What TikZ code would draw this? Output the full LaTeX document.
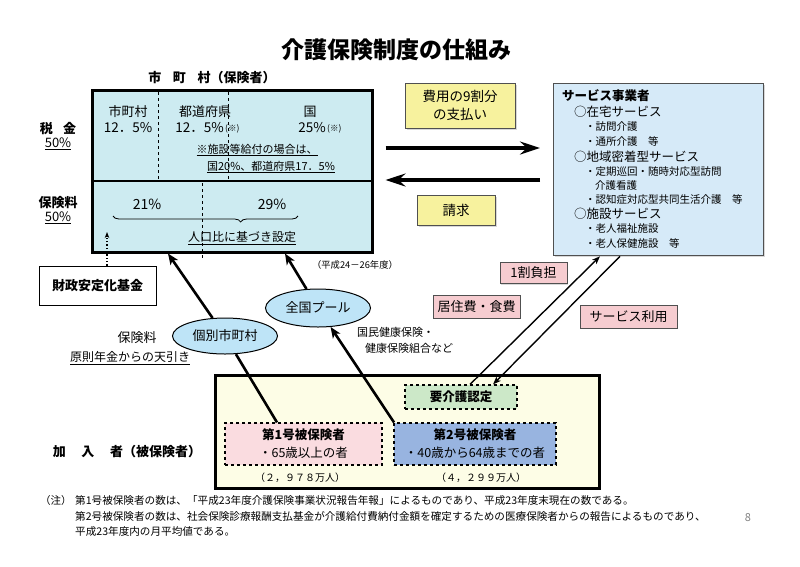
\documentclass[tikz,border=0pt]{standalone}
\usepackage{fontspec}
\setmainfont{Noto Sans CJK JP}
\usetikzlibrary{arrows.meta,shapes.geometric,decorations.pathreplacing,shadows}
\newcommand{\fsz}[2]{\fontsize{#1pt}{#2pt}\selectfont}
\definecolor{cyanfill}{RGB}{205,235,241}
\definecolor{svcfill}{RGB}{214,234,248}
\definecolor{ellfill}{RGB}{190,228,247}
\definecolor{yelfill}{RGB}{247,242,158}
\definecolor{pinkfill}{RGB}{246,204,208}
\definecolor{botfill}{RGB}{253,253,230}
\definecolor{grnfill}{RGB}{204,232,200}
\definecolor{p1fill}{RGB}{250,220,224}
\definecolor{b2fill}{RGB}{152,180,224}
\definecolor{edgegray}{RGB}{80,80,80}
\begin{document}
\begin{tikzpicture}[x=1pt,y=-1pt,
  txt/.style={inner sep=0pt,font=\fsz{13}{15}},
  small/.style={inner sep=0pt,font=\fsz{10.5}{12}},
  bigbox/.style={draw,line width=2.5pt,inner sep=0pt,anchor=north west},
  ybox/.style={draw=edgegray,line width=0.9pt,fill=yelfill,align=center,inner sep=0pt,
    font=\fsz{13.5}{18},drop shadow={shadow xshift=1.5pt,shadow yshift=-1.5pt,fill=gray!60}},
  pbox/.style={draw=edgegray,line width=0.9pt,fill=pinkfill,inner sep=0pt,
    font=\fsz{13}{15},drop shadow={shadow xshift=1.2pt,shadow yshift=-1.2pt,fill=gray!60}},
  dbox/.style={draw,dashed,line width=1.2pt,inner sep=0pt,align=center},
  ell/.style={ellipse,draw,line width=1pt,fill=ellfill,inner sep=0pt,font=\fsz{13}{15}},
  longarr/.style={line width=2.6pt,-{Stealth[length=11pt,width=9pt,inset=3pt]}},
  thinarr/.style={line width=1.4pt,-{Stealth[length=8pt,width=6pt,inset=2pt]}},
  hugearr/.style={line width=4pt,-{Stealth[length=20pt,width=13pt,inset=7pt]}},
  svcitem/.style={inner sep=0pt,anchor=west,font=\fsz{10.5}{12}},
  svchead/.style={inner sep=0pt,anchor=west,font=\fsz{12.5}{14}}]
\useasboundingbox (0,0) rectangle (800,566);

% title
\node[font=\bfseries\fsz{23}{26}] (title) at (396,50) {介護保険制度の仕組み};
\node[txt,font=\bfseries\fsz{13}{15}] (murat) at (212,78) {市\hspace{0.9em}町\hspace{0.9em}村（保険者）};

% insurer box
\node[bigbox,fill=cyanfill,minimum width=280pt,minimum height=162pt] (mura) at (91,89) {};
\draw[line width=1.5pt] (mura.west |- 0,181) -- (mura.east |- 0,181);
\draw[dashed,line width=0.8pt] (158,92) -- (158,179);
\draw[dashed,line width=0.8pt] (228,92) -- (228,180);
\draw[dashed,line width=0.8pt] (202,183) -- (202,258);

\node[txt] (c1) at (128,112) {市町村};
\node[txt,font=\fsz{13.5}{15}] (c1p) at (128,128) {12．5\%};
\node[txt] (c2) at (205,112) {都道府県};
\node[txt,font=\fsz{13.5}{15},anchor=east] (c2p) at (224,128) {12．5\%};
\node[inner sep=0pt,font=\fsz{8.5}{10},anchor=west] (c2n) at (225,129) {(※)};
\node[txt] (c3) at (310,112) {国};
\node[txt,font=\fsz{13.5}{15},anchor=east] (c3p) at (326,128) {25\%};
\node[inner sep=0pt,font=\fsz{8.5}{10},anchor=west] (c3n) at (327,129) {(※)};
\node[txt,font=\fsz{11}{13}] (n1) at (257,150) {\underline{※施設等給付の場合は、}};
\node[txt,font=\fsz{11}{13}] (n2) at (271,167) {\underline{国20\%、都道府県17．5\%}};

\node[txt,font=\fsz{14}{16}] (p1) at (147,204) {21\%};
\node[txt,font=\fsz{14}{16}] (p2) at (272,204) {29\%};
\draw[line width=0.8pt,decorate,decoration={brace,mirror,amplitude=6pt,aspect=0.69}] (113,216) -- (298,216);
\node[txt,font=\fsz{12}{14}] (jinko) at (242,238) {\underline{人口比に基づき設定}};

% left labels
\node[txt,font=\bfseries\fsz{13}{15}] (zei) at (58,129) {税\hspace{0.8em}金};
\node[txt] (zeip) at (58,144) {\underline{50\%}};
\node[txt,font=\bfseries\fsz{13}{15}] (hok) at (58,203) {保険料};
\node[txt] (hokp) at (58,218) {\underline{50\%}};

% fund
\node[draw,line width=1pt,minimum width=117pt,minimum height=39pt,inner sep=0pt,font=\bfseries\fsz{13}{15}] (zaisei) at (97.5,285.5) {財政安定化基金};
\coordinate (dtip) at (107,232);
\draw[dotted,line width=1.3pt,-{Stealth[length=6pt,width=4.5pt]}] (zaisei.north -| dtip) -- (dtip);

\node[txt] (hokenryo) at (137,338) {保険料};
\node[txt,font=\fsz{12}{14}] (tenbiki) at (130,358) {\underline{原則年金からの天引き}};

% bottom box
\node[bigbox,fill=botfill,minimum width=384pt,minimum height=113pt] (kanyu) at (214,374) {};
\node[dbox,fill=grnfill,minimum width=112pt,minimum height=24pt,font=\bfseries\fsz{12.5}{14}] (yok) at (461,397) {要介護認定};
\node[dbox,fill=p1fill,minimum width=157pt,minimum height=42pt,font=\fsz{12.5}{18}] (ins1) at (303.5,444) {{\bfseries 第1号被保険者}\\・65歳以上の者};
\node[dbox,fill=b2fill,minimum width=162pt,minimum height=42pt,font=\fsz{12.5}{18}] (ins2) at (475,444) {{\bfseries 第2号被保険者}\\・40歳から64歳までの者};
\node[txt,font=\fsz{10}{12}] (num1) at (300,478) {（２，９７８万人）};
\node[txt,font=\fsz{10}{12}] (num2) at (481,478) {（４，２９９万人）};
\node[txt,font=\bfseries\fsz{13}{15}] (kanyut) at (127,452) {加\hspace{1.2em}入\hspace{1.2em}者（被保険者）};

% ellipses
\node[ell,minimum width=105pt,minimum height=36pt] (kobetsu) at (225,336) {個別市町村};
\node[ell,minimum width=105pt,minimum height=38pt] (zenkoku) at (318,308) {全国プール};

% long arrows
\draw[line width=2.6pt] (ins1.north -| 277,0) -- (kobetsu);
\draw[longarr] (kobetsu) -- (mura.south -| 168,0);
\draw[longarr] (ins2.north -| 394,0) -- (zenkoku);
\draw[longarr] (zenkoku) -- (mura.south -| 285,0);

\node[inner sep=0pt,font=\fsz{9.3}{11}] (heisei) at (355,265) {（平成24－26年度）};
\node[inner sep=0pt,anchor=west,font=\fsz{11}{13}] (kokumin1) at (357,332) {国民健康保険・};
\node[inner sep=0pt,anchor=west,font=\fsz{11}{13}] (kokumin2) at (365,348) {健康保険組合など};

% service box
\node[bigbox,draw=edgegray,line width=1.3pt,fill=svcfill,minimum width=210pt,minimum height=172pt,
  drop shadow={shadow xshift=1.5pt,shadow yshift=-1.5pt,fill=gray!60}] (svc) at (553,83) {};
\node[svchead,font=\bfseries\fsz{12.5}{14}] (s0) at (562,96) {サービス事業者};
\node[svchead] (s1) at (574,112) {○在宅サービス};
\node[svcitem] (s2) at (585,127) {・訪問介護};
\node[svcitem] (s3) at (585,141) {・通所介護\hspace{1em}等};
\node[svchead] (s4) at (574,157) {○地域密着型サービス};
\node[svcitem] (s5) at (585,172) {・定期巡回・随時対応型訪問};
\node[svcitem] (s6) at (595,185.5) {介護看護};
\node[svcitem] (s7) at (585,199) {・認知症対応型共同生活介護\hspace{1em}等};
\node[svchead] (s8) at (574,214) {○施設サービス};
\node[svcitem] (s9) at (585,229) {・老人福祉施設};
\node[svcitem] (s10) at (585,243) {・老人保健施設\hspace{1em}等};

% payment boxes and arrows
\node[ybox,minimum width=110pt,minimum height=45pt] (pay) at (460,105.5) {費用の9割分\\の支払い};
\node[ybox,minimum width=78pt,minimum height=30pt] (seikyu) at (456,210) {請求};
\draw[hugearr,shorten <=12pt,shorten >=13pt] (mura.east |- 0,148) -- (svc.west |- 0,148);
\draw[hugearr,shorten <=13pt,shorten >=12pt] (svc.west |- 0,180) -- (mura.east |- 0,180);

% service-use arrows
\draw[thinarr] (yok.north -| 470,0) -- (svc.south -| 600,0);
\draw[thinarr] (svc.south -| 620,0) -- (yok.north -| 493,0);
\node[pbox,minimum width=67pt,minimum height=21pt] (ichiwari) at (533.5,273) {1割負担};
\node[pbox,minimum width=87pt,minimum height=23pt] (kyoju) at (476.5,306.5) {居住費・食費};
\node[pbox,minimum width=97pt,minimum height=23pt] (riyo) at (628.5,316.5) {サービス利用};

% footnotes
\node[inner sep=0pt,anchor=west,font=\fsz{10.5}{12}] (chu) at (40,500) {（注）};
\node[inner sep=0pt,anchor=west,font=\fsz{10.6}{12}] (f1) at (75,500) {第1号被保険者の数は、「平成23年度介護保険事業状況報告年報」によるものであり、平成23年度末現在の数である。};
\node[inner sep=0pt,anchor=west,font=\fsz{10.6}{12}] (f2) at (75,516) {第2号被保険者の数は、社会保険診療報酬支払基金が介護給付費納付金額を確定するための医療保険者からの報告によるものであり、};
\node[inner sep=0pt,anchor=west,font=\fsz{10.6}{12}] (f3) at (75,531) {平成23年度内の月平均値である。};
\node[inner sep=0pt,text=gray,font=\fsz{11}{13}] (pg) at (748,518) {8};
\end{tikzpicture}
\end{document}
